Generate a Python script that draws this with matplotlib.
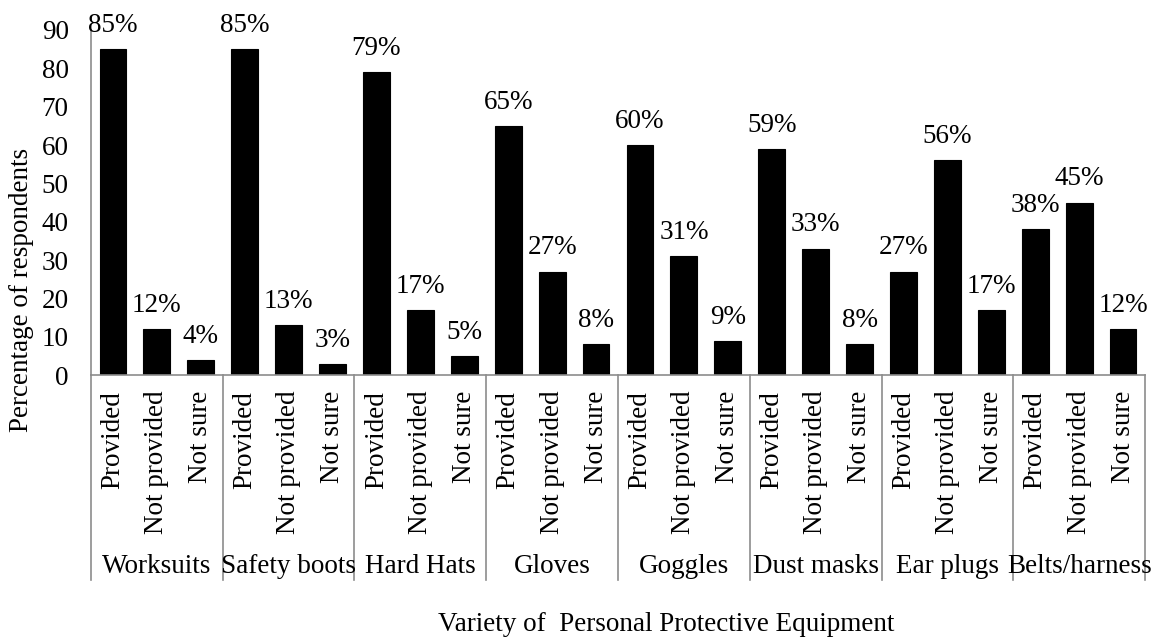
import matplotlib
matplotlib.use("Agg")
import matplotlib.pyplot as plt
import matplotlib.transforms as mtransforms
import numpy as np

groups = ["Worksuits", "Safety boots", "Hard Hats", "Gloves", "Goggles",
          "Dust masks", "Ear plugs", "Belts/harness"]
responses = ["Provided", "Not provided", "Not sure"]
provided = [85, 85, 79, 65, 60, 59, 27, 38]
not_provided = [12, 13, 17, 27, 31, 33, 56, 45]
not_sure = [4, 3, 5, 8, 9, 8, 17, 12]
y_ticks = [0, 10, 20, 30, 40, 50, 60, 70, 80, 90]
x_title = "Variety of  Personal Protective Equipment"
y_title = "Percentage of respondents"

FS = 19.5
plt.rcParams["font.family"] = ["Liberation Serif", "DejaVu Serif"]
plt.rcParams["font.size"] = FS

values = []
for p, n, s in zip(provided, not_provided, not_sure):
    values.extend([p, n, s])
labels = responses * len(groups)
x = np.arange(len(values))

W, H = 1153, 638
fig = plt.figure(figsize=(W / 100, H / 100), dpi=100)
ax = fig.add_axes([0.0789, 0.412, 0.9142, 0.541])

axis_grey = "#8c8c8c"
ax.bar(x, values, width=0.61, color="black", edgecolor="black", linewidth=0.8)
for xi, v in zip(x, values):
    ax.annotate(f"{v}%", (xi, v), xytext=(0, 8), textcoords="offset points",
                ha="center", va="bottom", fontsize=FS)

ax.set_xlim(-0.5, len(values) - 0.5)
ax.set_ylim(0, 90)
ax.set_yticks(y_ticks)
ax.tick_params(axis="y", length=0, pad=16, labelsize=FS)
ax.set_xticks([])
for side in ("top", "right"):
    ax.spines[side].set_visible(False)
for side in ("left", "bottom"):
    ax.spines[side].set_color(axis_grey)
    ax.spines[side].set_linewidth(1.2)

# Two-level category axis: group separators, response labels, group names
trans = mtransforms.blended_transform_factory(ax.transData, ax.transAxes)
sep_bottom = -0.594
for g in range(len(groups) + 1):
    xb = g * 3 - 0.5
    ax.plot([xb, xb], [0, sep_bottom], transform=trans, color=axis_grey,
            lw=1.2, clip_on=False)

for xi, lab in zip(x, labels):
    ax.text(xi, -0.045, lab, transform=trans, rotation=90, ha="center", va="top",
            fontsize=FS)

for g, name in enumerate(groups):
    ax.text(g * 3 + 1, -0.553, name, transform=trans, ha="center", va="center",
            fontsize=FS)

fig.text(666 / W, 1 - 631 / H, x_title, ha="center", va="baseline", fontsize=FS)
fig.text(22 / W, 1 - 290 / H, y_title, ha="center", va="center",
         rotation=90, fontsize=FS)

fig.savefig("out.png", dpi=100)
